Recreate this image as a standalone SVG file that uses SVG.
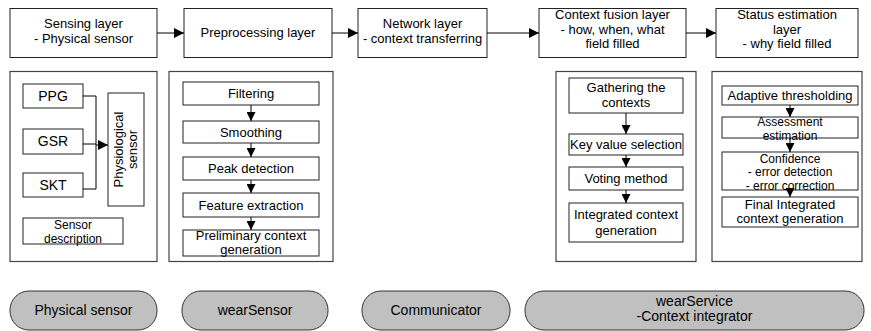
<svg xmlns="http://www.w3.org/2000/svg" width="871" height="331" viewBox="0 0 871 331">
<defs>
<style>
.b{fill:#fff;stroke:#222;stroke-width:1}
.p{fill:#fff;stroke:#444;stroke-width:1.2}
.pill{fill:#c0c0c0;stroke:#333;stroke-width:1}
text{font-family:"Liberation Sans",Arial,sans-serif;font-size:13px;fill:#000;text-anchor:middle}
.s{font-size:12px}
.l{font-size:14px}
.c{fill:none;stroke:#000;stroke-width:1}
</style>
<marker id="ah" viewBox="0 0 10 10" refX="10" refY="5" markerWidth="10" markerHeight="10" markerUnits="userSpaceOnUse" orient="auto">
<path d="M0,0 L10,5 L0,10 z" fill="#000"/>
</marker>
<marker id="av" viewBox="0 0 10 10" refX="10" refY="5" markerWidth="10" markerHeight="9" markerUnits="userSpaceOnUse" orient="auto">
<path d="M0,0 L10,5 L0,10 z" fill="#000"/>
</marker>
</defs>
<rect width="871" height="331" fill="#fff"/>

<!-- top layer boxes -->
<g id="sensing-layer"><rect class="b" x="10" y="8.5" width="147" height="49"/><text x="83.5" y="28">Sensing layer</text><text x="83.5" y="43">- Physical sensor</text></g>
<g id="preprocessing-layer"><rect class="b" x="184" y="8.5" width="148" height="49"/><text x="258" y="37">Preprocessing layer</text></g>
<g id="network-layer"><rect class="b" x="358" y="8.5" width="129" height="49"/><text x="422.5" y="28">Network layer</text><text x="422.5" y="43">- context transferring</text></g>
<g id="context-fusion-layer"><rect class="b" x="539" y="8.5" width="147" height="49"/><text x="612.5" y="19">Context fusion layer</text><text x="612.5" y="33.5">- how, when, what</text><text x="612.5" y="48">field filled</text></g>
<g id="status-estimation-layer"><rect class="b" x="716" y="8.5" width="142" height="49"/><text x="787" y="19">Status estimation</text><text x="787" y="33.5">layer</text><text x="787" y="48">- why field filled</text></g>

<!-- panels -->
<g id="panel-physical"><rect class="p" x="10" y="71.5" width="147" height="190"/>
<g id="ppg"><rect class="b" x="23" y="84" width="60" height="24"/><text class="l" x="53" y="101">PPG</text></g>
<g id="gsr"><rect class="b" x="23" y="129" width="60" height="25"/><text class="l" x="53" y="146">GSR</text></g>
<g id="skt"><rect class="b" x="23" y="173" width="60" height="24"/><text class="l" x="53" y="190">SKT</text></g>
<g id="physiological-sensor"><rect class="b" x="108" y="93" width="36" height="113"/><text transform="translate(126,149.5) rotate(-90)" y="-3">Physiological</text><text transform="translate(126,149.5) rotate(-90)" y="11">sensor</text></g>
<g id="sensor-description"><rect class="b" x="23" y="218" width="100" height="26"/><text class="s" x="73" y="229">Sensor</text><text class="s" x="73" y="242.5">description</text></g>
</g>

<g id="panel-preprocessing"><rect class="p" x="169" y="71.5" width="164" height="190"/>
<g id="filtering"><rect class="b" x="183" y="82" width="136" height="23"/><text x="251" y="98">Filtering</text></g>
<g id="smoothing"><rect class="b" x="183" y="121" width="136" height="22"/><text x="251" y="137">Smoothing</text></g>
<g id="peak-detection"><rect class="b" x="183" y="157" width="136" height="23"/><text x="251" y="173">Peak detection</text></g>
<g id="feature-extraction"><rect class="b" x="183" y="193" width="136" height="24"/><text x="251" y="210">Feature extraction</text></g>
<g id="preliminary-context"><rect class="b" x="183" y="230" width="136" height="26"/><text x="251" y="240">Preliminary context</text><text x="251" y="254">generation</text></g>
</g>

<g id="panel-fusion"><rect class="p" x="556" y="71.5" width="140" height="190"/>
<g id="gathering"><rect class="b" x="569" y="78" width="114" height="35"/><text x="626" y="92">Gathering the</text><text x="626" y="107">contexts</text></g>
<g id="key-value"><rect class="b" x="569" y="134" width="114" height="21"/><text x="626" y="149">Key value selection</text></g>
<g id="voting"><rect class="b" x="569" y="167" width="114" height="23"/><text x="626" y="183">Voting method</text></g>
<g id="integrated-context"><rect class="b" x="569" y="203" width="114" height="39"/><text x="626" y="219">Integrated context</text><text x="626" y="235">generation</text></g>
</g>

<g id="panel-status"><rect class="p" x="712" y="71.5" width="150" height="190"/>
<g id="adaptive"><rect class="b" x="722" y="86" width="136" height="19"/><text x="790" y="100">Adaptive thresholding</text></g>
<g id="assessment"><rect class="b" x="722" y="117" width="136" height="21"/><text class="s" x="790" y="126">Assessment</text><text class="s" x="790" y="140">estimation</text></g>
<g id="confidence"><rect class="b" x="722" y="152" width="136" height="38"/><text class="s" x="790" y="162.5">Confidence</text><text class="s" x="790" y="176">- error detection</text><text class="s" x="790" y="189.5">- error correction</text></g>
<g id="final-integrated"><rect class="b" x="722" y="197" width="136" height="30"/><text x="790" y="209">Final Integrated</text><text x="790" y="223">context generation</text></g>
</g>

<!-- bottom components -->
<g id="comp-physical-sensor"><rect class="pill" x="10" y="291" width="147" height="39" rx="19" ry="19"/><text class="l" x="83.5" y="315">Physical sensor</text></g>
<g id="comp-wearsensor"><rect class="pill" x="182" y="291" width="146" height="39" rx="19" ry="19"/><text class="l" x="255" y="315">wearSensor</text></g>
<g id="comp-communicator"><rect class="pill" x="362" y="291" width="148" height="39" rx="19" ry="19"/><text class="l" x="436" y="315">Communicator</text></g>
<g id="comp-wearservice"><rect class="pill" x="525" y="291" width="339" height="39" rx="19" ry="19"/><text class="l" x="694.5" y="306">wearService</text><text class="l" x="694.5" y="321">-Context integrator</text></g>

<!-- connectors -->
<g id="connectors">
<line class="c" x1="157" y1="33" x2="184" y2="33" marker-end="url(#ah)"/>
<line class="c" x1="332" y1="33" x2="358" y2="33" marker-end="url(#ah)"/>
<line class="c" x1="487" y1="33" x2="539" y2="33" marker-end="url(#ah)"/>
<line class="c" x1="686" y1="33" x2="716" y2="33" marker-end="url(#ah)"/>

<polyline class="c" points="83,96 96,96 96,189 83,189"/>
<line class="c" x1="83" y1="144" x2="96" y2="144"/>
<line class="c" x1="96" y1="145" x2="108" y2="145" marker-end="url(#ah)"/>

<line class="c" x1="251" y1="105" x2="251" y2="121" marker-end="url(#av)"/>
<line class="c" x1="251" y1="143" x2="251" y2="157" marker-end="url(#av)"/>
<line class="c" x1="251" y1="180" x2="251" y2="193" marker-end="url(#av)"/>
<line class="c" x1="251" y1="217" x2="251" y2="230" marker-end="url(#av)"/>

<line class="c" x1="626" y1="113" x2="626" y2="134" marker-end="url(#av)"/>
<line class="c" x1="626" y1="155" x2="626" y2="167" marker-end="url(#av)"/>
<line class="c" x1="626" y1="190" x2="626" y2="203" marker-end="url(#av)"/>

<line class="c" x1="790" y1="105" x2="790" y2="117" marker-end="url(#av)"/>
<line class="c" x1="790" y1="138" x2="790" y2="152" marker-end="url(#av)"/>
<line class="c" x1="790" y1="190" x2="790" y2="197" marker-end="url(#av)"/>
</g>
</svg>
